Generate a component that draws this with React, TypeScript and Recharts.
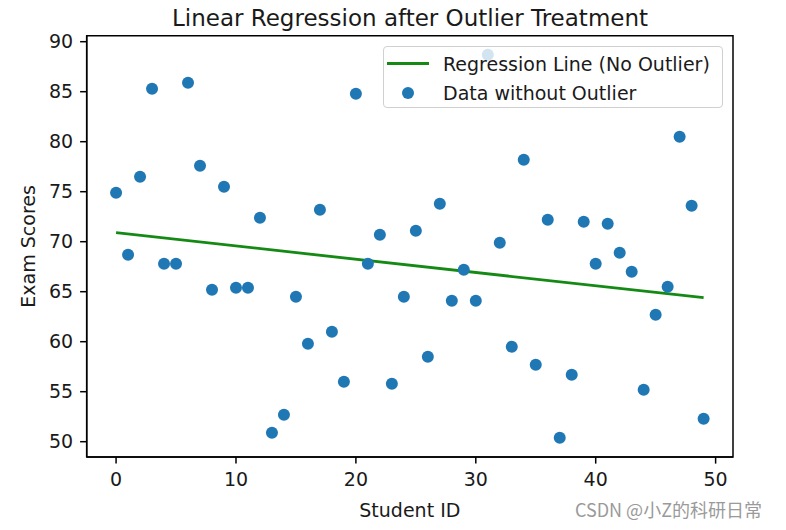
import React from "react";
import { ComposedChart, Scatter, Line, XAxis, YAxis, Legend, ReferenceArea } from "recharts";

// ---- data ----
const studentIds = [
  0, 1, 2, 3, 4, 5, 6, 7, 8, 9,
  10, 11, 12, 13, 14, 15, 16, 17, 18, 19,
  20, 21, 22, 23, 24, 25, 26, 27, 28, 29,
  30, 31, 32, 33, 34, 35, 36, 37, 38, 39,
  40, 41, 42, 43, 44, 45, 46, 47, 48, 49,
];
const examScores = [
  74.9, 68.7, 76.5, 85.3, 67.8, 67.8, 85.9, 77.6, 65.2, 75.5,
  65.4, 65.4, 72.4, 50.9, 52.7, 64.5, 59.8, 73.2, 61.0, 56.0,
  84.8, 67.8, 70.7, 55.8, 64.5, 71.1, 58.5, 73.8, 64.1, 67.2,
  64.1, 88.7, 69.9, 59.5, 78.2, 57.7, 72.2, 50.4, 56.7, 72.0,
  67.8, 71.8, 68.9, 67.0, 55.2, 62.7, 65.5, 80.5, 73.6, 52.3,
];
const regressionIds = [0, 49];
const regressionScores = [70.9, 64.4];
const xTicks = [0, 10, 20, 30, 40, 50];
const yTicks = [50, 55, 60, 65, 70, 75, 80, 85, 90];
const xDomain = [-2.45, 51.45];
const yDomain = [48.47, 90.6];

const points = studentIds.map((id, i) => ({ x: id, y: examScores[i] }));
const regLine = regressionIds.map((id, i) => ({ x: id, y: regressionScores[i] }));

const FONT = "'DejaVu Sans', sans-serif";
const TXT = "#1a1a1a";

const Dot = (props: any) => {
  const { cx, cy } = props;
  if (cx == null || cy == null) return null;
  return <circle cx={cx} cy={cy} r={6} fill="#1f77b4" />;
};

const renderLegend = (props: any) => {
  const payload: any[] = props.payload || [];
  const ordered = [
    ...payload.filter((p) => p.type === "line"),
    ...payload.filter((p) => p.type !== "line"),
  ];
  return (
    <div
      style={{
        boxSizing: "border-box",
        width: 340,
        height: 62,
        border: "1px solid #d0d0d0",
        borderRadius: 4,
        background: "rgba(255,255,255,0.8)",
        fontFamily: FONT,
        fontSize: 19,
        color: TXT,
        paddingTop: 2,
      }}
    >
      {ordered.map((entry, i) => (
        <div
          key={i}
          style={{ display: "flex", alignItems: "center", height: 29, whiteSpace: "nowrap" }}
        >
          <div style={{ width: 59, position: "relative", height: 29 }}>
            {entry.type === "line" ? (
              <div
                style={{ position: "absolute", left: 3, top: 13, width: 42, height: 3, background: entry.color }}
              />
            ) : (
              <div
                style={{
                  position: "absolute",
                  left: 18,
                  top: 8.5,
                  width: 12,
                  height: 12,
                  borderRadius: 6,
                  background: entry.color,
                }}
              />
            )}
          </div>
          <span>{entry.value}</span>
        </div>
      ))}
    </div>
  );
};

const YLabel = (props: any) => {
  const vb = props.viewBox || {};
  const x = 35;
  const y = (vb.y || 0) + (vb.height || 0) / 2;
  return (
    <text
      x={x}
      y={y}
      transform={`rotate(-90, ${x}, ${y})`}
      textAnchor="middle"
      fontFamily={FONT}
      fontSize={19}
      fill={TXT}
    >
      Exam Scores
    </text>
  );
};

const XLabel = (props: any) => {
  const vb = props.viewBox || {};
  const x = (vb.x || 0) + (vb.width || 0) / 2;
  const y = 517;
  return (
    <text x={x} y={y} textAnchor="middle" fontFamily={FONT} fontSize={19} fill={TXT}>
      Student ID
    </text>
  );
};

export default function App() {
  const tickStyle = { fontFamily: FONT, fontSize: 19, fill: TXT };
  return (
    <div style={{ position: "absolute", left: 0, top: 0, width: 786, height: 530, background: "#fff" }}>
      <div
        style={{
          position: "absolute",
          left: 87,
          top: 7,
          width: 646,
          textAlign: "center",
          fontFamily: FONT,
          fontSize: 23,
          lineHeight: "23px",
          color: TXT,
          whiteSpace: "nowrap",
        }}
      >
        Linear Regression after Outlier Treatment
      </div>
      <ComposedChart
        width={786}
        height={530}
        margin={{ top: 35.7, right: 53, bottom: 0, left: 0 }}
      >
        <XAxis
          type="number"
          dataKey="x"
          domain={xDomain}
          ticks={xTicks}
          allowDataOverflow
          height={73}
          tickSize={6.6}
          tickMargin={9}
          tick={tickStyle}
          axisLine={{ stroke: "#000", strokeWidth: 1.5 }}
          tickLine={{ stroke: "#000", strokeWidth: 1.5 }}
          label={<XLabel />}
        />
        <YAxis
          type="number"
          dataKey="y"
          domain={yDomain}
          ticks={yTicks}
          allowDataOverflow
          width={86.7}
          tickSize={6.6}
          tickMargin={7}
          tick={tickStyle}
          axisLine={{ stroke: "#000", strokeWidth: 1.5 }}
          tickLine={{ stroke: "#000", strokeWidth: 1.5 }}
          label={<YLabel />}
        />
        <ReferenceArea
          x1={xDomain[0]}
          x2={xDomain[1]}
          y1={yDomain[0]}
          y2={yDomain[1]}
          fill="none"
          fillOpacity={0}
          stroke="#000"
          strokeWidth={1.5}
          ifOverflow="visible"
        />
        <Scatter
          name="Data without Outlier"
          data={points}
          fill="#1f77b4"
          shape={<Dot />}
          legendType="circle"
          isAnimationActive={false}
        />
        <Line
          name="Regression Line (No Outlier)"
          data={regLine}
          dataKey="y"
          type="linear"
          stroke="#148a14"
          strokeWidth={2.8}
          dot={false}
          activeDot={false}
          legendType="line"
          isAnimationActive={false}
        />
        <Legend
          layout="vertical"
          align="center"
          verticalAlign="middle"
          wrapperStyle={{ left: 383, top: 46, width: 340, height: 62 }}
          content={renderLegend}
        />
      </ComposedChart>
      <div
        style={{
          position: "absolute",
          right: 24,
          top: 498,
          fontFamily: "'Noto Sans CJK SC', sans-serif",
          fontSize: 18,
          lineHeight: "22px",
          color: "#9a9a9a",
          whiteSpace: "nowrap",
        }}
      >
        CSDN @小Z的科研日常
      </div>
    </div>
  );
}
